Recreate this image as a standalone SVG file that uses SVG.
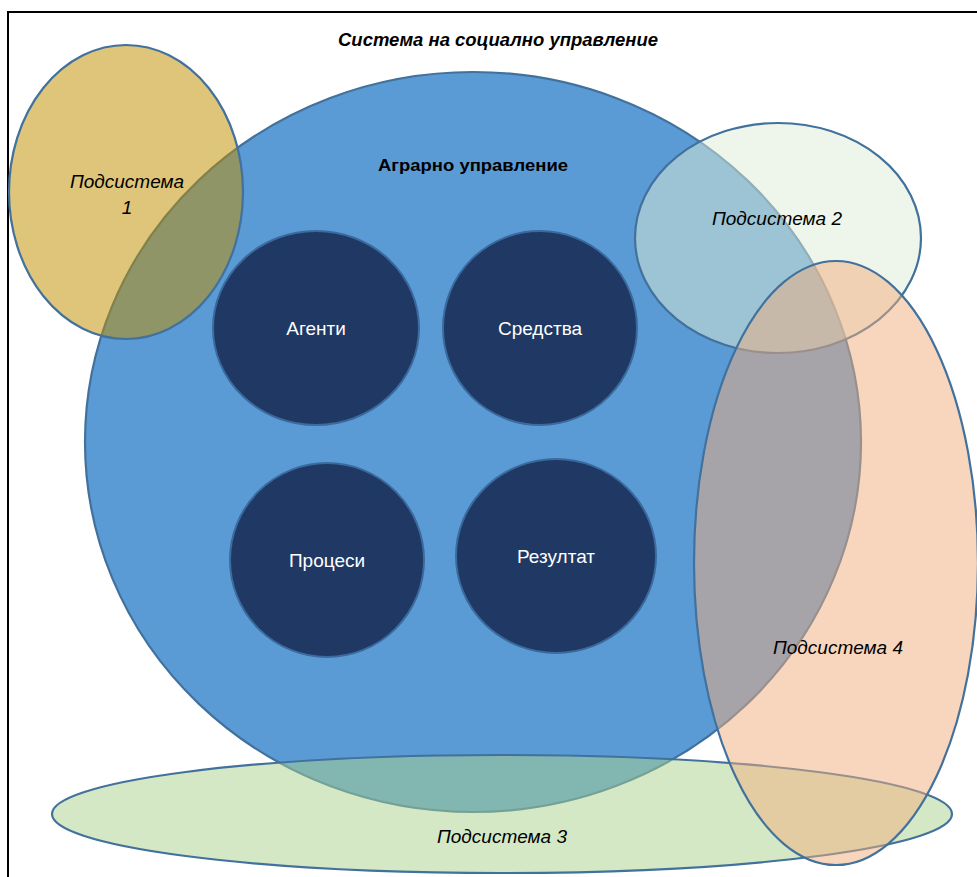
<svg xmlns="http://www.w3.org/2000/svg" width="977" height="877" viewBox="0 0 977 877">
<style>
.t{font-family:"Liberation Sans","Noto Sans",Arial,sans-serif;fill:#000;text-anchor:middle}
.it{font-style:italic;font-size:19px}
.w{font-family:"Liberation Sans","Noto Sans",Arial,sans-serif;fill:#fff;font-size:19px;text-anchor:middle}
.edge{stroke:#41719C;stroke-width:2.2}
.inner{fill:#1F3864;stroke:#3A6A9E;stroke-width:2}
</style>
<rect x="0" y="0" width="977" height="877" fill="#fff"/>
<rect x="8" y="12" width="1000" height="900" fill="none" stroke="#000" stroke-width="2"/>
<text class="t" x="498" y="46" font-size="18" font-weight="bold" font-style="italic" textLength="320" lengthAdjust="spacingAndGlyphs">Система на социално управление</text>
<g id="agrarno">
<ellipse class="edge" cx="473" cy="442" rx="388" ry="370" fill="#5B9BD5"/>
<text class="t" x="473" y="171" font-size="17" font-weight="bold" textLength="190" lengthAdjust="spacingAndGlyphs">Аграрно управление</text>
</g>
<g id="agenti"><ellipse class="inner" cx="316" cy="328" rx="103" ry="97"/><text class="w" x="316" y="335">Агенти</text></g>
<g id="sredstva"><ellipse class="inner" cx="540" cy="328" rx="97" ry="97"/><text class="w" x="540" y="335">Средства</text></g>
<g id="procesi"><ellipse class="inner" cx="327" cy="560" rx="97" ry="97"/><text class="w" x="327" y="567">Процеси</text></g>
<g id="rezultat"><ellipse class="inner" cx="556" cy="556" rx="100" ry="97"/><text class="w" x="556" y="563">Резултат</text></g>
<g id="podsistema1">
<ellipse class="edge" cx="126" cy="192" rx="117" ry="147" fill="#BF9000" fill-opacity="0.52"/>
<text class="t it" x="127" y="188">Подсистема</text>
<text class="t it" x="127" y="214">1</text>
</g>
<g id="podsistema2">
<ellipse class="edge" cx="778" cy="238" rx="143" ry="115" fill="#DDEBD6" fill-opacity="0.51"/>
<text class="t it" x="777" y="225">Подсистема 2</text>
</g>
<g id="podsistema3">
<ellipse class="edge" cx="502" cy="814" rx="450" ry="59" fill="#A9D18E" fill-opacity="0.5"/>
<text class="t it" x="502" y="843">Подсистема 3</text>
</g>
<g id="podsistema4">
<ellipse class="edge" cx="836" cy="563" rx="142" ry="302" fill="#F1AD7D" fill-opacity="0.5"/>
<text class="t it" x="838" y="654">Подсистема 4</text>
</g>
<g id="connectors"></g>
</svg>
